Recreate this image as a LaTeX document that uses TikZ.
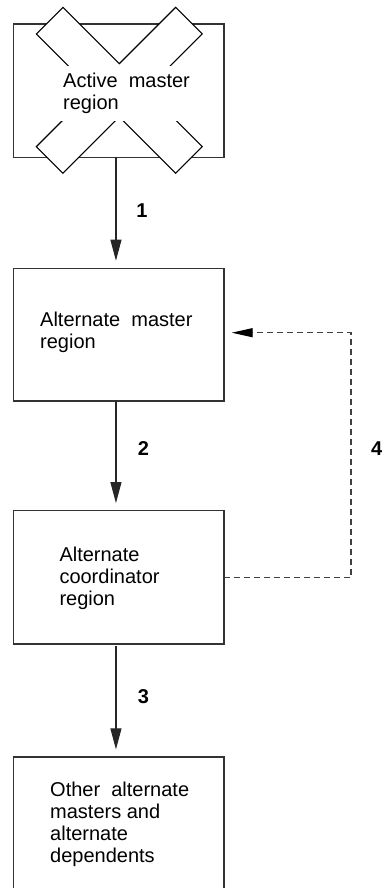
\documentclass[tikz,border=0pt]{standalone}
\usepackage{fontspec}
\setmainfont{Liberation Sans}
\usetikzlibrary{arrows.meta}

\tikzset{
  regionbox/.style={draw=black!80, line width=1.1pt, fill=none,
    minimum width=210.7pt, inner sep=0pt, outer sep=0pt},
  % anchored at the baseline of the last line
  boxtext/.style={align=left, anchor=base west, inner sep=0pt,
    font=\fontsize{20}{22}\selectfont},
  steplabel/.style={anchor=base, inner sep=0pt,
    font=\fontsize{20}{22}\selectfont\bfseries},
  flow/.style={draw=black!85, line width=1.1pt,
    -{Triangle[length=21pt, width=11pt]}, shorten >=7.6pt},
  backflow/.style={draw=black!75, line width=1.2pt, dash pattern=on 6pt off 4pt,
    -{Triangle[length=21pt, width=9pt, color=black]}, shorten >=7.7pt},
  crossmark/.style={draw=black, line width=1.1pt, fill=white, line join=miter}
}

\begin{document}
\begin{tikzpicture}[x=1pt, y=-1pt]
  \useasboundingbox (0,0) rectangle (383,888);
  \clip (0,0) rectangle (383,888);

  % region boxes
  \node[regionbox, minimum height=133.3pt] (master) at (118.65,90.65) {};
  \node[regionbox, minimum height=132.7pt] (alt)    at (118.65,334.65) {};
  \node[regionbox, minimum height=133.3pt] (coord)  at (118.65,577.35) {};
  \node[regionbox, minimum height=133.3pt] (others) at (118.65,823.65) {};

  % the cross over the active master region (two bars at 45 degrees)
  \draw[crossmark, shift={(119.3,90.3)}, rotate=45]
    (-98.5,-18.8) -- (-18.8,-18.8) -- (-18.8,-98.5) -- (18.8,-98.5)
    -- (18.8,-18.8) -- (98.5,-18.8) -- (98.5,18.8) -- (18.8,18.8)
    -- (18.8,98.5) -- (-18.8,98.5) -- (-18.8,18.8) -- (-98.5,18.8) -- cycle;

  % box texts
  \node[boxtext, fill=white, inner xsep=2pt, inner ysep=7pt] (t1) at (61,109.5)
    {Active\ \ master\\region};
  \node[boxtext] (t2) at (40,348) {Alternate\ \ master\\region};
  \node[boxtext] (t3) at (59.3,605.7) {Alternate\\coordinator\\region};
  \node[boxtext] (t4) at (50,862.7) {Other\ \ alternate\\masters and\\alternate\\dependents};

  % flow arrows
  \draw[flow] ([xshift=-2.7pt]master.south) -- ([xshift=-2.7pt]alt.north);
  \draw[flow] ([xshift=-2.7pt]alt.south) -- ([xshift=-2.7pt]coord.north);
  \draw[flow, shorten <=1.5pt] ([xshift=-2.7pt]coord.south) -- ([xshift=-2.7pt]others.north);

  % dashed return path
  \coordinate (lowturn) at (351,577.7);
  \coordinate (highturn) at (351,332.7);
  \draw[backflow] (coord.east |- lowturn) -- (lowturn) -- (highturn) -- (alt.east |- highturn);

  % step numbers
  \node[steplabel] (n1) at (142,217) {1};
  \node[steplabel] (n2) at (143.5,455) {2};
  \node[steplabel] (n3) at (143.5,703) {3};
  \node[steplabel] (n4) at (376.7,455) {4};
\end{tikzpicture}
\end{document}
